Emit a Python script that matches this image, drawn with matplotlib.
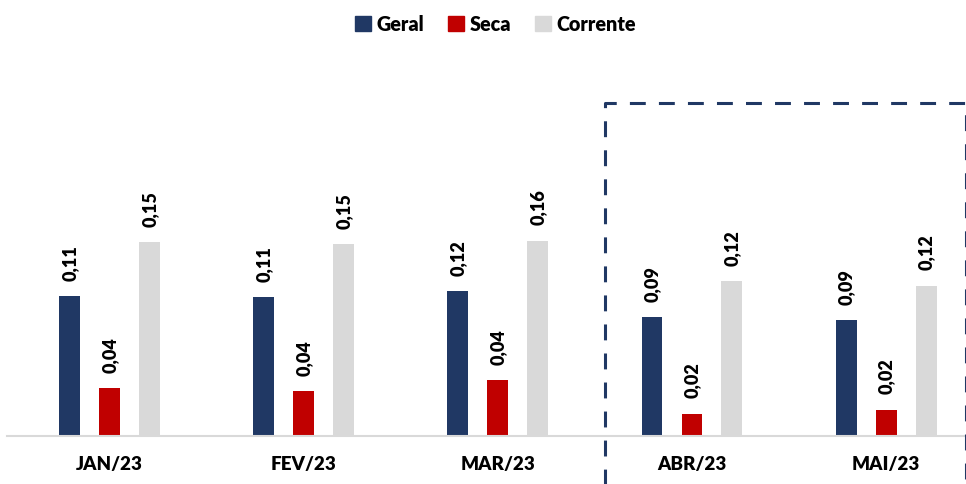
import numpy as np
import matplotlib.pyplot as plt
from matplotlib.patches import Patch
from matplotlib.lines import Line2D

plt.rcParams['font.family'] = ['Lato', 'DejaVu Sans']

# data
meses = ['JAN/23', 'FEV/23', 'MAR/23', 'ABR/23', 'MAI/23']
geral = [0.1116, 0.1108, 0.1155, 0.0948, 0.0924]
seca = [0.038, 0.036, 0.0446, 0.018, 0.021]
corrente = [0.1546, 0.153, 0.156, 0.1235, 0.120]

cores = {'Geral': '#203864', 'Seca': '#C00000', 'Corrente': '#D9D9D9'}

fig = plt.figure(figsize=(9.66, 4.84), dpi=100)
ax = fig.add_axes([0.007, 0.099, 0.993, 0.777])

x = np.arange(len(meses))
w = 0.108
off = 0.206

series = [('Geral', geral, -off), ('Seca', seca, 0), ('Corrente', corrente, off)]
for nome, vals, dx in series:
    bars = ax.bar(x + dx, vals, width=w, color=cores[nome], zorder=2)
    for b, v in zip(bars, vals):
        ax.annotate('{:.2f}'.format(v).replace('.', ','),
                    (b.get_x() + b.get_width() / 2, b.get_height()),
                    xytext=(0, 11), textcoords='offset points',
                    ha='center', va='bottom', rotation=90,
                    fontsize=13, fontweight='heavy', color='black')

ax.set_xlim(-0.531, 4.412)
ax.set_ylim(0, 0.3)
ax.set_xticks(x)
ax.set_xticklabels(meses, fontsize=13.5, fontweight='heavy')
ax.tick_params(axis='x', length=0, pad=14)
ax.set_yticks([])
for s in ['top', 'right', 'left']:
    ax.spines[s].set_visible(False)
ax.spines['bottom'].set_color('#D9D9D9')
ax.spines['bottom'].set_linewidth(1.5)

# dashed box around the last two months
box = Line2D([2.552, 2.552, 4.41, 4.41], [-0.05, 0.266, 0.266, -0.05],
             color='#203864', lw=2.2, linestyle=(0, (5.2, 4.3)),
             clip_on=False, zorder=3)
ax.add_line(box)

handles = [Patch(color=cores[n]) for n in ['Geral', 'Seca', 'Corrente']]
fig.legend(handles, ['Geral', 'Seca', 'Corrente'], loc='center',
           bbox_to_anchor=(0.513, 0.95), ncol=3, frameon=False,
           handlelength=0.8, handleheight=0.8, handletextpad=0.3,
           columnspacing=1.2, prop={'weight': 'heavy', 'size': 14.2})

fig.savefig('out.png', dpi=100)
